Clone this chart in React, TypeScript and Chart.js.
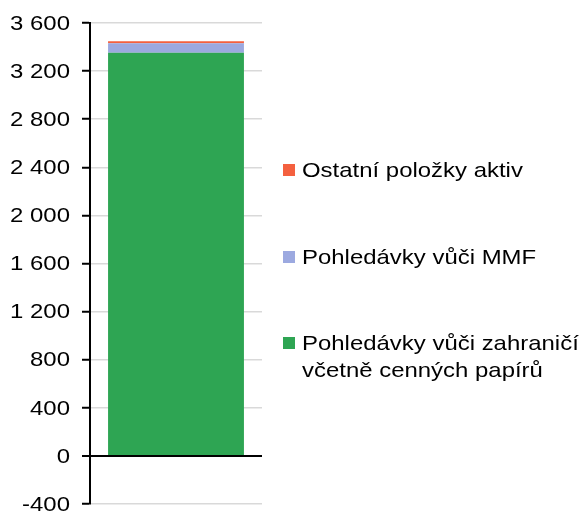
import React, { useEffect, useRef } from "react";
import { Chart, registerables } from "chart.js";

Chart.register(...registerables);

const categories = [""];
const seriesNames = [
  "Pohledávky vůči zahraničí včetně cenných papírů",
  "Pohledávky vůči MMF",
  "Ostatní položky aktiv",
];
const greenValues = [3352];
const blueValues = [80];
const redValues = [17];
const seriesColors = ["#2ea553", "#9ca9e0", "#f4603f"];
const yMin = -400;
const yMax = 3600;
const yStep = 400;

const legendItems = [
  { name: seriesNames[2], color: seriesColors[2], top: 156, lines: ["Ostatní položky aktiv"] },
  { name: seriesNames[1], color: seriesColors[1], top: 243, lines: ["Pohledávky vůči MMF"] },
  { name: seriesNames[0], color: seriesColors[0], top: 329, lines: ["Pohledávky vůči zahraničí", "včetně cenných papírů"] },
];

const FONT = '"Liberation Sans", Arial, sans-serif';
const STRETCH = 1.14;

function fmt(v: number) {
  const s = String(Math.abs(v)).replace(/\B(?=(\d{3})+(?!\d))/g, " ");
  return (v < 0 ? "-" : "") + s;
}

const stretchedTicks = {
  id: "stretchedTicks",
  afterDraw(chart: any) {
    const scale = chart.scales.y;
    const ctx = chart.ctx;
    ctx.save();
    ctx.font = `21px ${FONT}`;
    ctx.fillStyle = "#000";
    ctx.textAlign = "right";
    ctx.textBaseline = "middle";
    const x = scale.right - 8 - 12;
    for (const t of scale.ticks) {
      const y = scale.getPixelForValue(t.value);
      ctx.save();
      ctx.translate(x, y + 1);
      ctx.scale(STRETCH, 1);
      ctx.fillText(fmt(t.value), 0, 0);
      ctx.restore();
    }
    ctx.restore();
  },
};

export default function App() {
  const ref = useRef<HTMLCanvasElement | null>(null);
  useEffect(() => {
    if (!ref.current) return;
    const chart = new Chart(ref.current, {
      type: "bar",
      data: {
        labels: categories,
        datasets: [
          { label: seriesNames[0], data: greenValues, backgroundColor: seriesColors[0] },
          { label: seriesNames[1], data: blueValues, backgroundColor: seriesColors[1] },
          { label: seriesNames[2], data: redValues, backgroundColor: seriesColors[2] },
        ],
      },
      plugins: [stretchedTicks],
      options: {
        responsive: false,
        animation: false,
        layout: { padding: { left: 10, right: 322, top: 23, bottom: 11 } },
        datasets: { bar: { categoryPercentage: 1, barPercentage: 0.79 } },
        plugins: { legend: { display: false }, tooltip: { enabled: false } },
        scales: {
          x: { stacked: true, display: false },
          y: {
            stacked: true,
            min: yMin,
            max: yMax,
            afterFit: (s: any) => {
              s.width = 80;
              s.paddingTop = 0;
              s.paddingBottom = 0;
            },
            ticks: {
              stepSize: yStep,
              padding: 12,
              color: "rgba(0,0,0,0)",
              font: { family: FONT, size: 21 },
              callback: (v: any) => fmt(Number(v)),
            },
            grid: {
              color: (c: any) => (c.tick && c.tick.value === 0 ? "#000" : "#d9d9d9"),
              lineWidth: (c: any) => (c.tick && c.tick.value === 0 ? 2 : 1.5),
              tickColor: "#000",
              tickLength: 8,
              tickWidth: 2,
            },
            border: { display: true, color: "#000", width: 2 },
          },
        },
      },
    });
    return () => chart.destroy();
  }, []);

  return (
    <div style={{ position: "fixed", left: 0, top: 0, width: 584, height: 515, background: "#fff" }}>
      <canvas ref={ref} width={584} height={515} style={{ position: "absolute", left: 0, top: 0 }} />
      {legendItems.map((it) => (
        <div
          key={it.name}
          style={{ position: "absolute", left: 283, top: it.top, fontFamily: FONT, fontSize: 21, color: "#000", lineHeight: "27px" }}
        >
          <span
            style={{ position: "absolute", left: 0, top: 8, width: 12, height: 12, background: it.color }}
          />
          <div style={{ marginLeft: 19, whiteSpace: "nowrap", transform: `scaleX(${STRETCH})`, transformOrigin: "left center" }}>
            {it.lines.map((l) => (
              <div key={l}>{l}</div>
            ))}
          </div>
        </div>
      ))}
    </div>
  );
}
